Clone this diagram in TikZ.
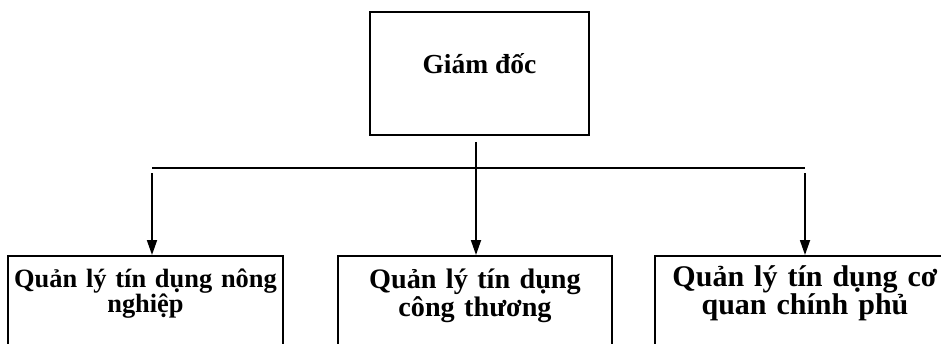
\documentclass[tikz,border=0pt]{standalone}
\usepackage{fontspec}
\setmainfont{Liberation Serif}
\usetikzlibrary{arrows.meta,positioning}

\begin{document}
\begin{tikzpicture}[
  x=1pt, y=1pt,
  every node/.style={font=\bfseries\fontsize{27.5}{28}\selectfont},
  boss/.style={draw, line width=2.4pt, minimum width=219pt,
               minimum height=123pt, inner sep=0pt, text depth=20pt},
  dept/.style={draw, line width=2.4pt, anchor=north, align=center,
               inner xsep=2pt, inner ysep=13pt, text depth=60pt},
  link/.style={line width=1.8pt},
  >={Triangle[length=15pt,width=10pt]}]
  \useasboundingbox (0,0) rectangle (941,343);
  \node[boss] (gd) at (479.5,269.5) {Giám đốc};
  \node[dept, text width=271pt, font=\bfseries\fontsize{26.4}{25}\selectfont]
    (nn) at (145.5,88) {Quản lý tín dụng nông\\nghiệp};
  \node[dept, text width=270pt, font=\bfseries\fontsize{28.2}{28}\selectfont]
    (ct) at (475,88) {Quản lý tín dụng\\công thương};
  \node[dept, text width=296pt, inner ysep=9pt,
        font=\bfseries\fontsize{30}{27}\selectfont]
    (cp) at (805,88) {Quản lý tín dụng cơ\\quan chính phủ};
  % stem and bus line
  \coordinate (top) at (476,201);
  \coordinate (bl) at (152,175);
  \coordinate (bm) at (476,175);
  \coordinate (br) at (805,175);
  \draw[link] (bl) -- (br);
  \draw[link,->] (top) -- (top |- ct.north);
  \draw[link,->] ([yshift=-5pt]bl) -- (bl |- nn.north);
  \draw[link,->] ([yshift=-5pt]br) -- (br |- cp.north);
\end{tikzpicture}
\end{document}
